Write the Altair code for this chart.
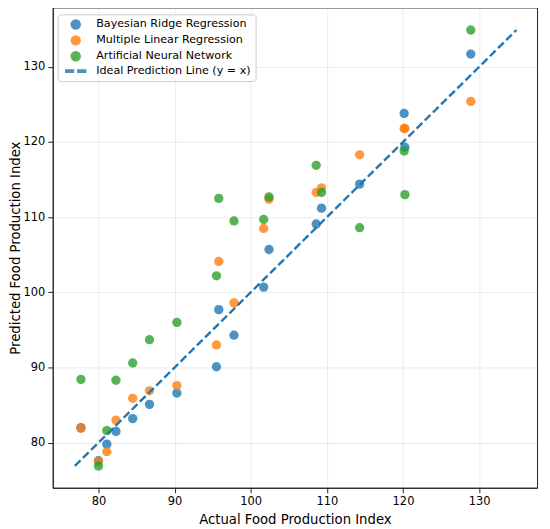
import altair as alt
import pandas as pd

# Data
actual = [77.7, 80.0, 81.1, 82.3, 84.5, 86.7, 90.3, 95.5, 95.8, 97.8,
          101.7, 102.4, 108.6, 109.3, 114.3, 120.15, 120.25, 128.9]
bayesian = [82.0, 77.6, 79.8, 81.5, 83.2, 85.1, 86.6, 90.1, 97.7, 94.3,
            100.7, 105.7, 109.1, 111.2, 114.4, 123.8, 119.3, 131.7]
mlr = [81.9, 77.5, 78.8, 83.0, 85.9, 86.9, 87.6, 93.0, 104.1, 98.6,
       108.5, 112.4, 113.3, 113.9, 118.3, 121.8, 121.8, 125.4]
ann = [88.4, 76.9, 81.6, 88.3, 90.6, 93.7, 96.0, 102.2, 112.5, 109.5,
       109.7, 112.7, 116.9, 113.3, 108.6, 118.8, 113.0, 134.9]
ideal_line = [76.9, 134.9]

models = ["Bayesian Ridge Regression", "Multiple Linear Regression",
          "Artificial Neural Network"]
line_name = "Ideal Prediction Line (y = x)"
colors = ["#1f77b4", "#ff7f0e", "#2ca02c", "#1f77b4"]
ticks = [80, 90, 100, 110, 120, 130]
dash_symbol = "M-2.24,-0.25H-0.5V0.25H-2.24Z M0.5,-0.25H2.24V0.25H0.5Z"
shapes = ["circle", "circle", "circle", dash_symbol]

rows = []
for name, preds in zip(models, [bayesian, mlr, ann]):
    for a, p in zip(actual, preds):
        rows.append({"actual": a, "predicted": p, "model": name})
pts = pd.DataFrame(rows)
line_df = pd.DataFrame({"actual": ideal_line, "predicted": ideal_line,
                        "model": [line_name, line_name]})

domain = models + [line_name]
xscale = alt.Scale(domain=[74.0, 137.6], nice=False, zero=False)
yscale = alt.Scale(domain=[74.0, 137.9], nice=False, zero=False)


def make_legend():
    return alt.Legend(
        title=None, orient="none", legendX=5, legendY=7,
        labelFont="DejaVu Sans", labelFontSize=11.2, labelColor="#000000",
        symbolSize=80, symbolOffset=8, labelOffset=15, rowPadding=0,
        padding=4.5, fillColor="rgba(255,255,255,0.8)", strokeColor="#cccccc",
        cornerRadius=3, labelLimit=300,
    )


color_scale = alt.Scale(domain=domain, range=colors)

xaxis = alt.Axis(values=ticks, title="Actual Food Production Index",
                 labelFontSize=11.5, titleFontSize=13.3, titlePadding=5,
                 tickSize=5, labelPadding=3)
yaxis = alt.Axis(values=ticks, title="Predicted Food Production Index",
                 labelFontSize=11.5, titleFontSize=13.3, titlePadding=0,
                 tickSize=5, labelPadding=3)

points = alt.Chart(pts).mark_point(filled=True, size=88, opacity=0.8, strokeWidth=0).encode(
    x=alt.X("actual:Q", scale=xscale, axis=xaxis),
    y=alt.Y("predicted:Q", scale=yscale, axis=yaxis),
    color=alt.Color("model:N", scale=color_scale, legend=make_legend()),
    shape=alt.Shape("model:N", scale=alt.Scale(domain=domain, range=shapes),
                    legend=make_legend()),
)

line = alt.Chart(line_df).mark_line(strokeDash=[8, 3.5], strokeWidth=2.4).encode(
    x=alt.X("actual:Q", scale=xscale),
    y=alt.Y("predicted:Q", scale=yscale),
    color=alt.Color("model:N", scale=color_scale, legend=make_legend()),
)

chart = alt.layer(points, line).properties(
    width=487, height=483,
    autosize=alt.AutoSizeParams(type="none"),
    padding={"left": 45, "top": -2, "right": 5, "bottom": 40},
).configure_view(
    stroke="#222222", strokeWidth=1
).configure_axis(
    labelFont="DejaVu Sans", titleFont="DejaVu Sans",
    labelColor="#000000", titleColor="#000000", titleFontWeight="normal",
    domainColor="#222222", tickColor="#222222",
    gridColor="#b0b0b0", gridOpacity=0.3, gridWidth=0.8,
)

chart.save("out.html", embed_options={"renderer": "svg", "actions": False})
